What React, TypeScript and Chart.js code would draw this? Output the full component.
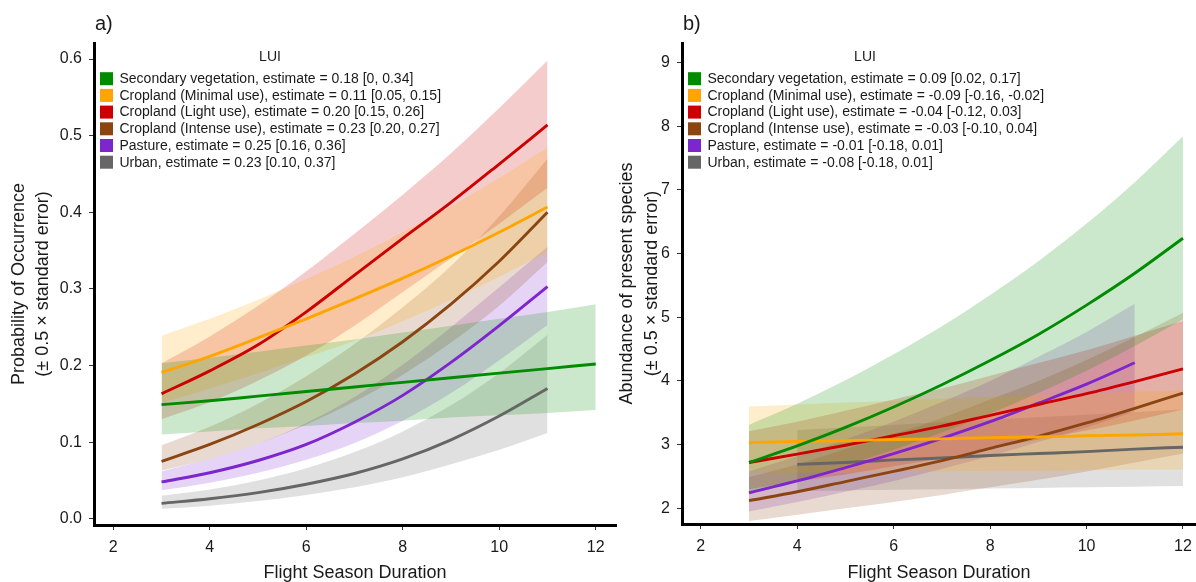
import React, { useEffect, useRef } from "react";
import { Chart, registerables } from "chart.js";
Chart.register(...registerables);

const FONT = "'Liberation Sans', Arial, Helvetica, sans-serif";
const TEXT = "#1a1a1a";

// ---------- categories & legend text ----------
const categories = [
  "Secondary vegetation",
  "Cropland (Minimal use)",
  "Cropland (Light use)",
  "Cropland (Intense use)",
  "Pasture",
  "Urban",
];
const colors = ["#008b00", "#ffa500", "#cd0000", "#8b4513", "#7d26cd", "#666666"];
const estimatesA = [
  "0.18 [0, 0.34]",
  "0.11 [0.05, 0.15]",
  "0.20 [0.15, 0.26]",
  "0.23 [0.20, 0.27]",
  "0.25 [0.16, 0.36]",
  "0.23 [0.10, 0.37]",
];
const estimatesB = [
  "0.09 [0.02, 0.17]",
  "-0.09 [-0.16, -0.02]",
  "-0.04 [-0.12, 0.03]",
  "-0.03 [-0.10, 0.04]",
  "-0.01 [-0.18, 0.01]",
  "-0.08 [-0.18, 0.01]",
];

// ---------- tick labels ----------
const xTicks = [2, 4, 6, 8, 10, 12];
const yTicksA = [0, 0.1, 0.2, 0.3, 0.4, 0.5, 0.6];
const yTicksB = [2, 3, 4, 5, 6, 7, 8, 9];

// ---------- x values (Flight Season Duration) ----------
const x3to12 = [3, 4, 5, 6, 7, 8, 9, 10, 11, 12];
const x3to11 = [3, 4, 5, 6, 7, 8, 9, 10, 11];
const x4to12 = [4, 5, 6, 7, 8, 9, 10, 11, 12];

// ---------- panel a: Probability of Occurrence ----------
const secVegFitA = [0.149, 0.154, 0.16, 0.166, 0.172, 0.178, 0.184, 0.19, 0.196, 0.202];
const secVegLoA = [0.11, 0.114, 0.118, 0.121, 0.125, 0.128, 0.132, 0.135, 0.138, 0.142];
const secVegHiA = [0.203, 0.21, 0.218, 0.226, 0.234, 0.243, 0.252, 0.261, 0.27, 0.28];

const minimalFitA = [0.191, 0.212, 0.236, 0.261, 0.287, 0.314, 0.343, 0.374, 0.407];
const minimalLoA = [0.151, 0.17, 0.19, 0.211, 0.232, 0.258, 0.286, 0.316, 0.348];
const minimalHiA = [0.239, 0.261, 0.286, 0.313, 0.342, 0.374, 0.408, 0.445, 0.485];

const lightFitA = [0.163, 0.193, 0.227, 0.27, 0.318, 0.366, 0.413, 0.463, 0.514];
const lightLoA = [0.13, 0.152, 0.18, 0.213, 0.252, 0.296, 0.34, 0.385, 0.432];
const lightHiA = [0.203, 0.238, 0.278, 0.323, 0.372, 0.423, 0.477, 0.536, 0.598];

const intenseFitA = [0.075, 0.097, 0.123, 0.153, 0.189, 0.231, 0.28, 0.336, 0.4];
const intenseLoA = [0.063, 0.078, 0.098, 0.123, 0.153, 0.188, 0.23, 0.278, 0.335];
const intenseHiA = [0.096, 0.12, 0.15, 0.186, 0.228, 0.276, 0.33, 0.395, 0.47];

const pastureFitA = [0.048, 0.06, 0.076, 0.097, 0.126, 0.161, 0.204, 0.252, 0.303];
const pastureLoA = [0.037, 0.047, 0.06, 0.077, 0.099, 0.128, 0.164, 0.207, 0.253];
const pastureHiA = [0.062, 0.078, 0.098, 0.125, 0.159, 0.201, 0.25, 0.302, 0.355];

const urbanFitA = [0.02, 0.026, 0.034, 0.045, 0.059, 0.078, 0.103, 0.134, 0.17];
const urbanLoA = [0.013, 0.017, 0.023, 0.031, 0.041, 0.054, 0.071, 0.09, 0.112];
const urbanHiA = [0.03, 0.038, 0.05, 0.066, 0.087, 0.114, 0.148, 0.19, 0.24];

// ---------- panel b: Abundance of present species ----------
const secVegFitB = [2.72, 2.98, 3.27, 3.59, 3.94, 4.32, 4.73, 5.19, 5.69, 6.24];
const secVegLoB = [2.235, 2.44, 2.67, 2.92, 3.19, 3.49, 3.81, 4.16, 4.55, 4.97];
const secVegHiB = [3.31, 3.64, 4.01, 4.42, 4.86, 5.35, 5.88, 6.47, 7.12, 7.84];

const minimalFitB = [3.03, 3.05, 3.06, 3.08, 3.09, 3.11, 3.12, 3.14, 3.15, 3.17];
const minimalLoB = [2.55, 2.56, 2.56, 2.57, 2.58, 2.59, 2.59, 2.6, 2.61, 2.61];
const minimalHiB = [3.6, 3.63, 3.66, 3.69, 3.72, 3.75, 3.77, 3.8, 3.83, 3.85];

const lightFitB = [2.72, 2.85, 2.99, 3.14, 3.29, 3.46, 3.63, 3.8, 3.99, 4.19];
const lightLoB = [2.3, 2.42, 2.53, 2.66, 2.79, 2.93, 3.08, 3.22, 3.38, 3.55];
const lightHiB = [3.21, 3.36, 3.53, 3.71, 3.88, 4.08, 4.28, 4.48, 4.71, 4.94];

const intenseFitB = [2.12, 2.26, 2.42, 2.58, 2.75, 2.94, 3.13, 3.34, 3.57, 3.81];
const intenseLoB = [1.8, 1.9, 2.0, 2.1, 2.21, 2.33, 2.45, 2.58, 2.72, 2.86];
const intenseHiB = [2.49, 2.69, 2.93, 3.17, 3.42, 3.71, 4.0, 4.33, 4.69, 5.07];

const pastureFitB = [2.245, 2.43, 2.64, 2.86, 3.1, 3.36, 3.65, 3.95, 4.285];
const pastureLoB = [1.95, 2.1, 2.26, 2.43, 2.62, 2.82, 3.04, 3.27, 3.52];
const pastureHiB = [2.58, 2.82, 3.08, 3.36, 3.67, 4.0, 4.38, 4.77, 5.21];

const urbanFitB = [2.69, 2.72, 2.76, 2.79, 2.83, 2.86, 2.89, 2.93, 2.96];
const urbanLoB = [2.27, 2.28, 2.29, 2.3, 2.31, 2.32, 2.33, 2.34, 2.35];
const urbanHiB = [3.23, 3.27, 3.31, 3.35, 3.39, 3.43, 3.47, 3.51, 3.55];

type Series = { x: number[]; fit: number[]; lo: number[]; hi: number[] };

const seriesA: Series[] = [
  { x: x3to12, fit: secVegFitA, lo: secVegLoA, hi: secVegHiA },
  { x: x3to11, fit: minimalFitA, lo: minimalLoA, hi: minimalHiA },
  { x: x3to11, fit: lightFitA, lo: lightLoA, hi: lightHiA },
  { x: x3to11, fit: intenseFitA, lo: intenseLoA, hi: intenseHiA },
  { x: x3to11, fit: pastureFitA, lo: pastureLoA, hi: pastureHiA },
  { x: x3to11, fit: urbanFitA, lo: urbanLoA, hi: urbanHiA },
];
const seriesB: Series[] = [
  { x: x3to12, fit: secVegFitB, lo: secVegLoB, hi: secVegHiB },
  { x: x3to12, fit: minimalFitB, lo: minimalLoB, hi: minimalHiB },
  { x: x3to12, fit: lightFitB, lo: lightLoB, hi: lightHiB },
  { x: x3to12, fit: intenseFitB, lo: intenseLoB, hi: intenseHiB },
  { x: x3to11, fit: pastureFitB, lo: pastureLoB, hi: pastureHiB },
  { x: x4to12, fit: urbanFitB, lo: urbanLoB, hi: urbanHiB },
];

function rgba(hex: string, a: number) {
  const n = parseInt(hex.slice(1), 16);
  return `rgba(${(n >> 16) & 255},${(n >> 8) & 255},${n & 255},${a})`;
}

type PanelSpec = {
  label: string;
  series: Series[];
  estimates: string[];
  yTicks: number[];
  yMin: number;
  yMax: number;
  xMin: number;
  xMax: number;
  yFmt: (v: number) => string;
  yTitle: string[];
  canvasLeft: number;
  canvasWidth: number;
  axisLeft: number;
  padRight: number;
  xAxisHeight: number;
  yTitleX: number[];
  legendX: number;
  lutX: number;
};

function buildConfig(p: PanelSpec): any {
  const datasets: any[] = [];
  p.series.forEach((s, i) => {
    datasets.push({
      label: categories[i] + " upper",
      data: s.x.map((x, j) => ({ x, y: s.hi[j] })),
      borderWidth: 0,
      borderColor: "rgba(0,0,0,0)",
      pointRadius: 0,
      fill: "+1",
      backgroundColor: rgba(colors[i], 0.2),
      cubicInterpolationMode: "monotone",
      order: 1,
    });
    datasets.push({
      label: categories[i] + " lower",
      data: s.x.map((x, j) => ({ x, y: s.lo[j] })),
      borderWidth: 0,
      borderColor: "rgba(0,0,0,0)",
      pointRadius: 0,
      fill: false,
      cubicInterpolationMode: "monotone",
      order: 1,
    });
  });
  p.series.forEach((s, i) => {
    datasets.push({
      label: categories[i],
      data: s.x.map((x, j) => ({ x, y: s.fit[j] })),
      borderWidth: 2.9,
      borderColor: colors[i],
      pointRadius: 0,
      fill: false,
      cubicInterpolationMode: "monotone",
      order: 0,
    });
  });

  const textPlugin = {
    id: "panelText",
    afterDraw(chart: any) {
      const ctx = chart.ctx as CanvasRenderingContext2D;
      const ca = chart.chartArea;
      ctx.save();
      ctx.fillStyle = TEXT;
      ctx.font = `20px ${FONT}`;
      ctx.textAlign = "left";
      ctx.textBaseline = "alphabetic";
      ctx.fillText(p.label, ca.left + 1, 30);
      ctx.font = `18px ${FONT}`;
      ctx.textAlign = "center";
      ctx.fillText("Flight Season Duration", (ca.left + ca.right) / 2, 578);
      const cy = (ca.top + ca.bottom) / 2;
      p.yTitle.forEach((t, k) => {
        ctx.save();
        ctx.translate(p.yTitleX[k], cy);
        ctx.rotate(-Math.PI / 2);
        ctx.textAlign = "center";
        ctx.textBaseline = "middle";
        ctx.fillText(t, 0, 0);
        ctx.restore();
      });
      ctx.font = `14px ${FONT}`;
      ctx.textAlign = "center";
      ctx.textBaseline = "middle";
      ctx.fillText("LUI", p.lutX, 57);
      ctx.textAlign = "left";
      const rowY = [78.7, 95.4, 112.1, 128.8, 145.5, 162.2];
      categories.forEach((c, i) => {
        ctx.fillStyle = colors[i];
        ctx.fillRect(p.legendX, rowY[i] - 6.5, 13, 13);
        ctx.fillStyle = TEXT;
        ctx.fillText(`${c}, estimate = ${p.estimates[i]}`, p.legendX + 19.5, rowY[i] + 0.5);
      });
      ctx.restore();
    },
  };

  return {
    type: "line",
    data: { datasets },
    plugins: [textPlugin],
    options: {
      animation: false,
      responsive: false,
      maintainAspectRatio: false,
      devicePixelRatio: 1,
      layout: { padding: { left: 0, top: 43, right: p.padRight, bottom: 0 } },
      plugins: {
        legend: { display: false },
        tooltip: { enabled: false },
        title: { display: false },
      },
      elements: { line: { tension: 0.4 } },
      scales: {
        x: {
          type: "linear",
          min: p.xMin,
          max: p.xMax,
          afterBuildTicks: (ax: any) => {
            ax.ticks = xTicks.map((v) => ({ value: v }));
          },
          afterFit: (ax: any) => {
            ax.height = p.xAxisHeight;
            ax.paddingLeft = 0;
            ax.paddingRight = 0;
          },
          grid: {
            display: true,
            drawOnChartArea: false,
            drawTicks: true,
            tickLength: 5,
            color: "#333",
            lineWidth: 1,
          },
          border: { display: true, color: "#000", width: 3 },
          ticks: {
            font: { family: FONT, size: 16 },
            color: TEXT,
            padding: 8,
            maxRotation: 0,
            autoSkip: false,
            callback: (v: any) => String(v),
          },
        },
        y: {
          type: "linear",
          min: p.yMin,
          max: p.yMax,
          afterBuildTicks: (ax: any) => {
            ax.ticks = p.yTicks.map((v) => ({ value: v }));
          },
          afterFit: (ax: any) => {
            ax.width = p.axisLeft;
            ax.paddingTop = 0;
            ax.paddingBottom = 0;
          },
          grid: {
            display: true,
            drawOnChartArea: false,
            drawTicks: true,
            tickLength: 5,
            color: "#333",
            lineWidth: 1,
          },
          border: { display: true, color: "#000", width: 3 },
          ticks: {
            font: { family: FONT, size: 16 },
            color: TEXT,
            padding: 7,
            autoSkip: false,
            callback: (v: any) => p.yFmt(Number(v)),
          },
        },
      },
    },
  };
}

const panelASpec: PanelSpec = {
  label: "a)",
  series: seriesA,
  estimates: estimatesA,
  yTicks: yTicksA,
  yMin: -0.0082,
  yMax: 0.621,
  xMin: 1.6,
  xMax: 12.42,
  yFmt: (v) => v.toFixed(1),
  yTitle: ["Probability of Occurrence", "(\u00b1 0.5 \u00d7 standard error)"],
  canvasLeft: 0,
  canvasWidth: 620,
  axisLeft: 94,
  padRight: 4,
  xAxisHeight: 57,
  yTitleX: [19, 43],
  legendX: 100,
  lutX: 270,
};

const panelBSpec: PanelSpec = {
  label: "b)",
  series: seriesB,
  estimates: estimatesB,
  yTicks: yTicksB,
  yMin: 1.754,
  yMax: 9.305,
  xMin: 1.61,
  xMax: 12.27,
  yFmt: (v) => String(v),
  yTitle: ["Abundance of present species", "(\u00b1 0.5 \u00d7 standard error)"],
  canvasLeft: 606,
  canvasWidth: 590,
  axisLeft: 76,
  padRight: 0,
  xAxisHeight: 58,
  yTitleX: [627 - 606, 652 - 606],
  legendX: 688 - 606,
  lutX: 865 - 606,
};

function Panel({ spec }: { spec: PanelSpec }) {
  const ref = useRef<HTMLCanvasElement | null>(null);
  useEffect(() => {
    if (!ref.current) return;
    const chart = new Chart(ref.current, buildConfig(spec));
    return () => chart.destroy();
  }, [spec]);
  return (
    <canvas
      ref={ref}
      width={spec.canvasWidth}
      height={582}
      style={{
        position: "absolute",
        left: spec.canvasLeft,
        top: 0,
        width: spec.canvasWidth,
        height: 582,
      }}
    />
  );
}

export default function App() {
  return (
    <div
      style={{
        position: "absolute",
        left: 0,
        top: 0,
        width: 1196,
        height: 582,
        background: "#ffffff",
        overflow: "hidden",
      }}
    >
      <Panel spec={panelASpec} />
      <Panel spec={panelBSpec} />
    </div>
  );
}
